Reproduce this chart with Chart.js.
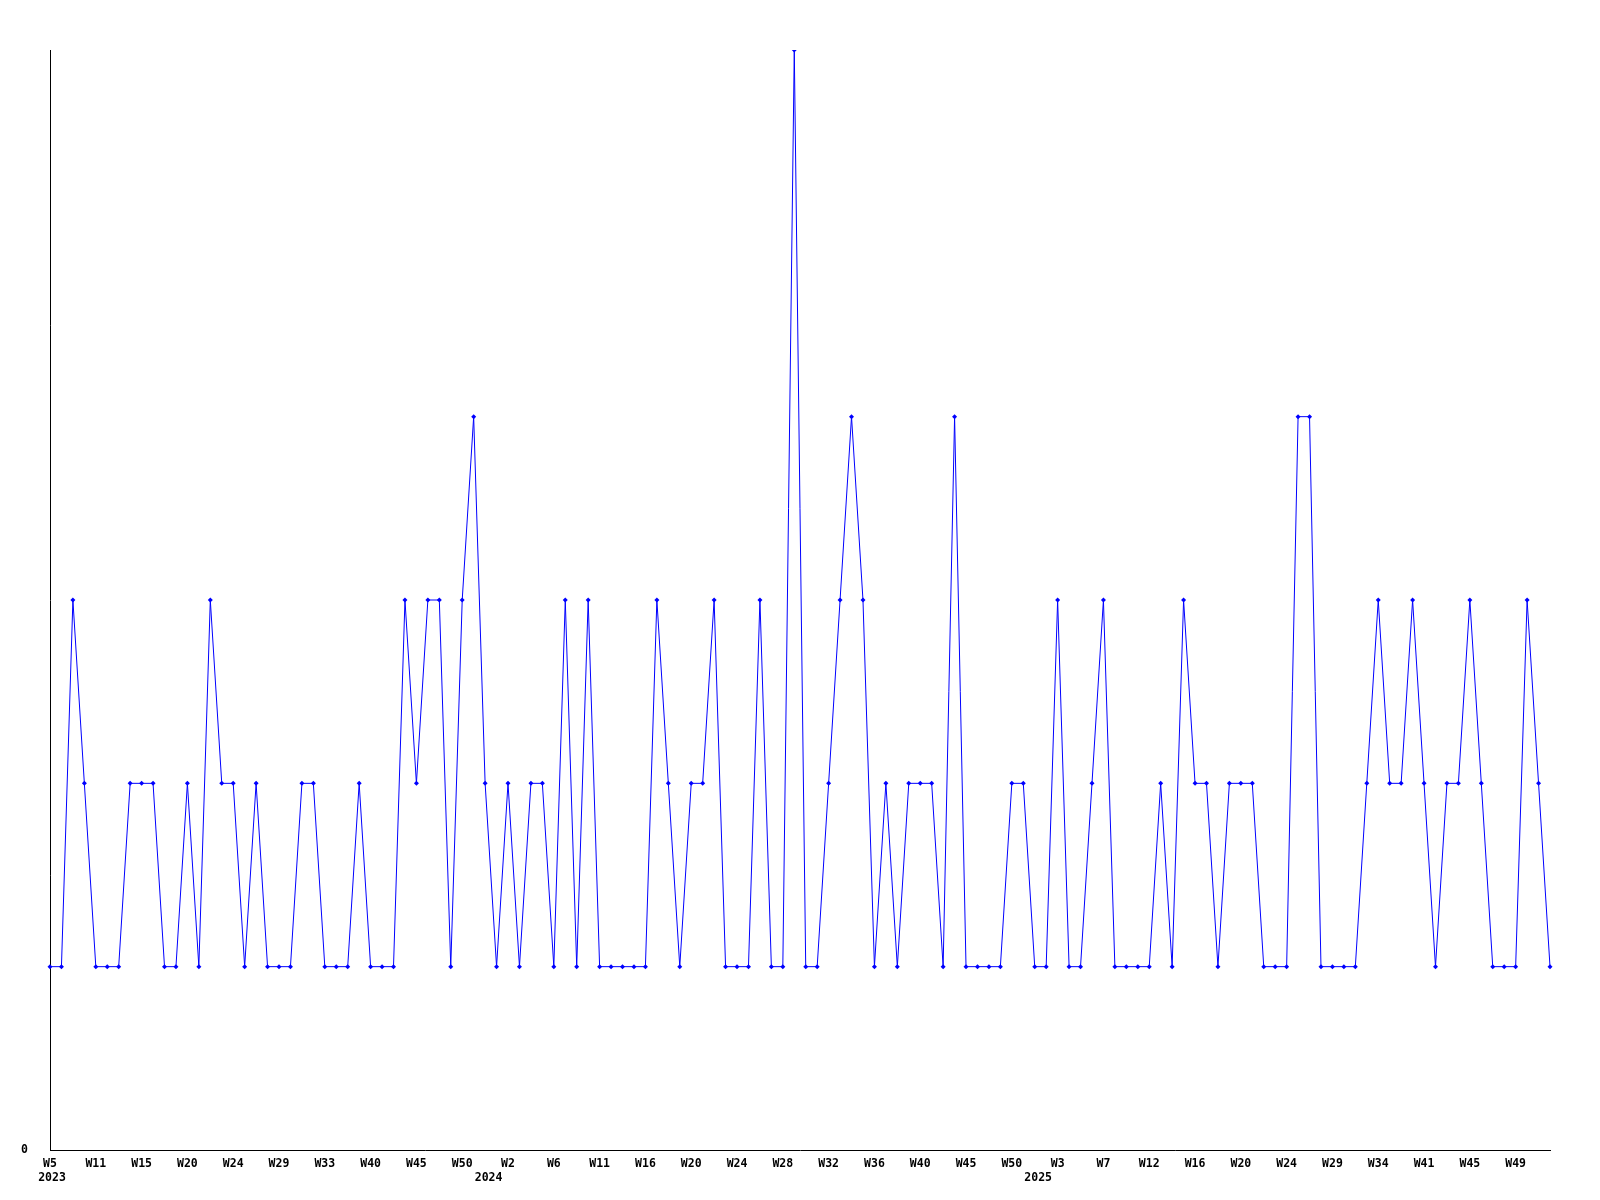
<!DOCTYPE html>
<html>
<head>
<meta charset="utf-8">
<script src="https://cdn.jsdelivr.net/npm/chart.js@4"></script>
<style>
    html, body { margin: 0; padding: 0; background: #ffffff; }
    #wrap { width: 1600px; height: 1200px; }
</style>
</head>
<body>
<div id="wrap"><canvas id="weeklyChart" width="1600" height="1200"></canvas></div>
<script>
// week labels (only every 4th one is printed on the axis)
const weekLabels = [
    'W5', 'W6', 'W7', 'W9', 'W11', 'W12', 'W13', 'W14', 'W15', 'W16',
    'W18', 'W19', 'W20', 'W21', 'W22', 'W23', 'W24', 'W26', 'W27', 'W28',
    'W29', 'W30', 'W31', 'W32', 'W33', 'W35', 'W37', 'W38', 'W40', 'W41',
    'W42', 'W44', 'W45', 'W46', 'W47', 'W48', 'W50', 'W51', 'W52',
    'W1', 'W2', 'W3', 'W4', 'W5', 'W6', 'W7', 'W8', 'W10', 'W11',
    'W12', 'W13', 'W14', 'W16', 'W17', 'W18', 'W19', 'W20', 'W21', 'W22',
    'W23', 'W24', 'W25', 'W26', 'W27', 'W28', 'W29', 'W30', 'W31', 'W32',
    'W33', 'W34', 'W35', 'W36', 'W37', 'W38', 'W39', 'W40', 'W41', 'W42',
    'W43', 'W45', 'W46', 'W47', 'W48', 'W50', 'W51', 'W52',
    'W1', 'W3', 'W4', 'W5', 'W6', 'W7', 'W8', 'W9', 'W10', 'W12',
    'W13', 'W14', 'W15', 'W16', 'W17', 'W18', 'W19', 'W20', 'W21', 'W22',
    'W23', 'W24', 'W25', 'W26', 'W28', 'W29', 'W30', 'W31', 'W32', 'W34',
    'W35', 'W37', 'W39', 'W41', 'W42', 'W43', 'W44', 'W45', 'W46', 'W47',
    'W48', 'W49', 'W50', 'W51', 'W52'
];
const weekYears = [].concat(
    Array(39).fill(2023),
    Array(48).fill(2024),
    Array(45).fill(2025)
);
const counts = [
    1, 1, 3, 2, 1, 1, 1, 2, 2, 2,
    1, 1, 2, 1, 3, 2, 2, 1, 2, 1,
    1, 1, 2, 2, 1, 1, 1, 2, 1, 1,
    1, 3, 2, 3, 3, 1, 3, 4, 2, 1,
    2, 1, 2, 2, 1, 3, 1, 3, 1, 1,
    1, 1, 1, 3, 2, 1, 2, 2, 3, 1,
    1, 1, 3, 1, 1, 6, 1, 1, 2, 3,
    4, 3, 1, 2, 1, 2, 2, 2, 1, 4,
    1, 1, 1, 1, 2, 2, 1, 1, 3, 1,
    1, 2, 3, 1, 1, 1, 1, 2, 1, 3,
    2, 2, 1, 2, 2, 2, 1, 1, 1, 4,
    4, 1, 1, 1, 1, 2, 3, 2, 2, 3,
    2, 1, 2, 2, 3, 2, 1, 1, 1, 3,
    2, 1
];
const yMax = 6;
const labelEvery = 4;

const axisFont = { family: '"DejaVu Sans Mono", monospace', size: 11.5, weight: 'bold' };

document.addEventListener('DOMContentLoaded', function() {
    const ctx = document.getElementById('weeklyChart').getContext('2d');

    // year under the first week of each year
    const yearLabels = {
        id: 'yearLabels',
        afterDraw: function(chart) {
            const xs = chart.scales.x;
            const c = chart.ctx;
            c.save();
            c.font = 'bold 11.5px "DejaVu Sans Mono", monospace';
            c.fillStyle = '#000000';
            c.textAlign = 'center';
            c.textBaseline = 'middle';
            weekYears.forEach(function(y, i) {
                if (i === 0 || weekYears[i - 1] !== y) {
                    c.fillText(String(y), xs.getPixelForValue(i) + (i === 0 ? 2 : -8), xs.top + 28);
                }
            });
            c.restore();
        }
    };

    const data = {
        labels: weekLabels,
        datasets: [{
            data: counts,
            borderColor: '#0000ff',
            backgroundColor: '#0000ff',
            borderWidth: 1,
            tension: 0,
            pointStyle: 'rectRot',
            pointRadius: 2.5,
            pointBorderWidth: 0,
            pointBackgroundColor: '#0000ff'
        }]
    };

    const config = {
        type: 'line',
        data: data,
        options: {
            responsive: false,
            animation: false,
            events: [],
            layout: {
                padding: { top: 50, right: 50, left: 0, bottom: 0 }
            },
            plugins: {
                legend: { display: false },
                tooltip: { enabled: false }
            },
            scales: {
                x: {
                    offset: false,
                    grid: { display: false, drawTicks: false },
                    border: { display: true, color: '#000000', width: 1 },
                    ticks: {
                        autoSkip: false,
                        maxRotation: 0,
                        minRotation: 0,
                        padding: 7,
                        color: '#000000',
                        font: axisFont,
                        callback: function(value, index) {
                            return index % labelEvery === 0 ? weekLabels[index] : '';
                        }
                    },
                    afterFit: function(scale) { scale.height = 50; }
                },
                y: {
                    min: 0,
                    max: yMax,
                    grid: { display: false, drawTicks: false },
                    border: { display: true, color: '#000000', width: 1 },
                    ticks: {
                        stepSize: yMax,
                        padding: 22,
                        color: '#000000',
                        font: axisFont,
                        callback: function(value) {
                            return value === 0 ? '0' : '';
                        }
                    },
                    afterFit: function(scale) { scale.width = 50; }
                }
            }
        },
        plugins: [yearLabels]
    };

    const weeklyChart = new Chart(ctx, config);
});
</script>
</body>
</html>
